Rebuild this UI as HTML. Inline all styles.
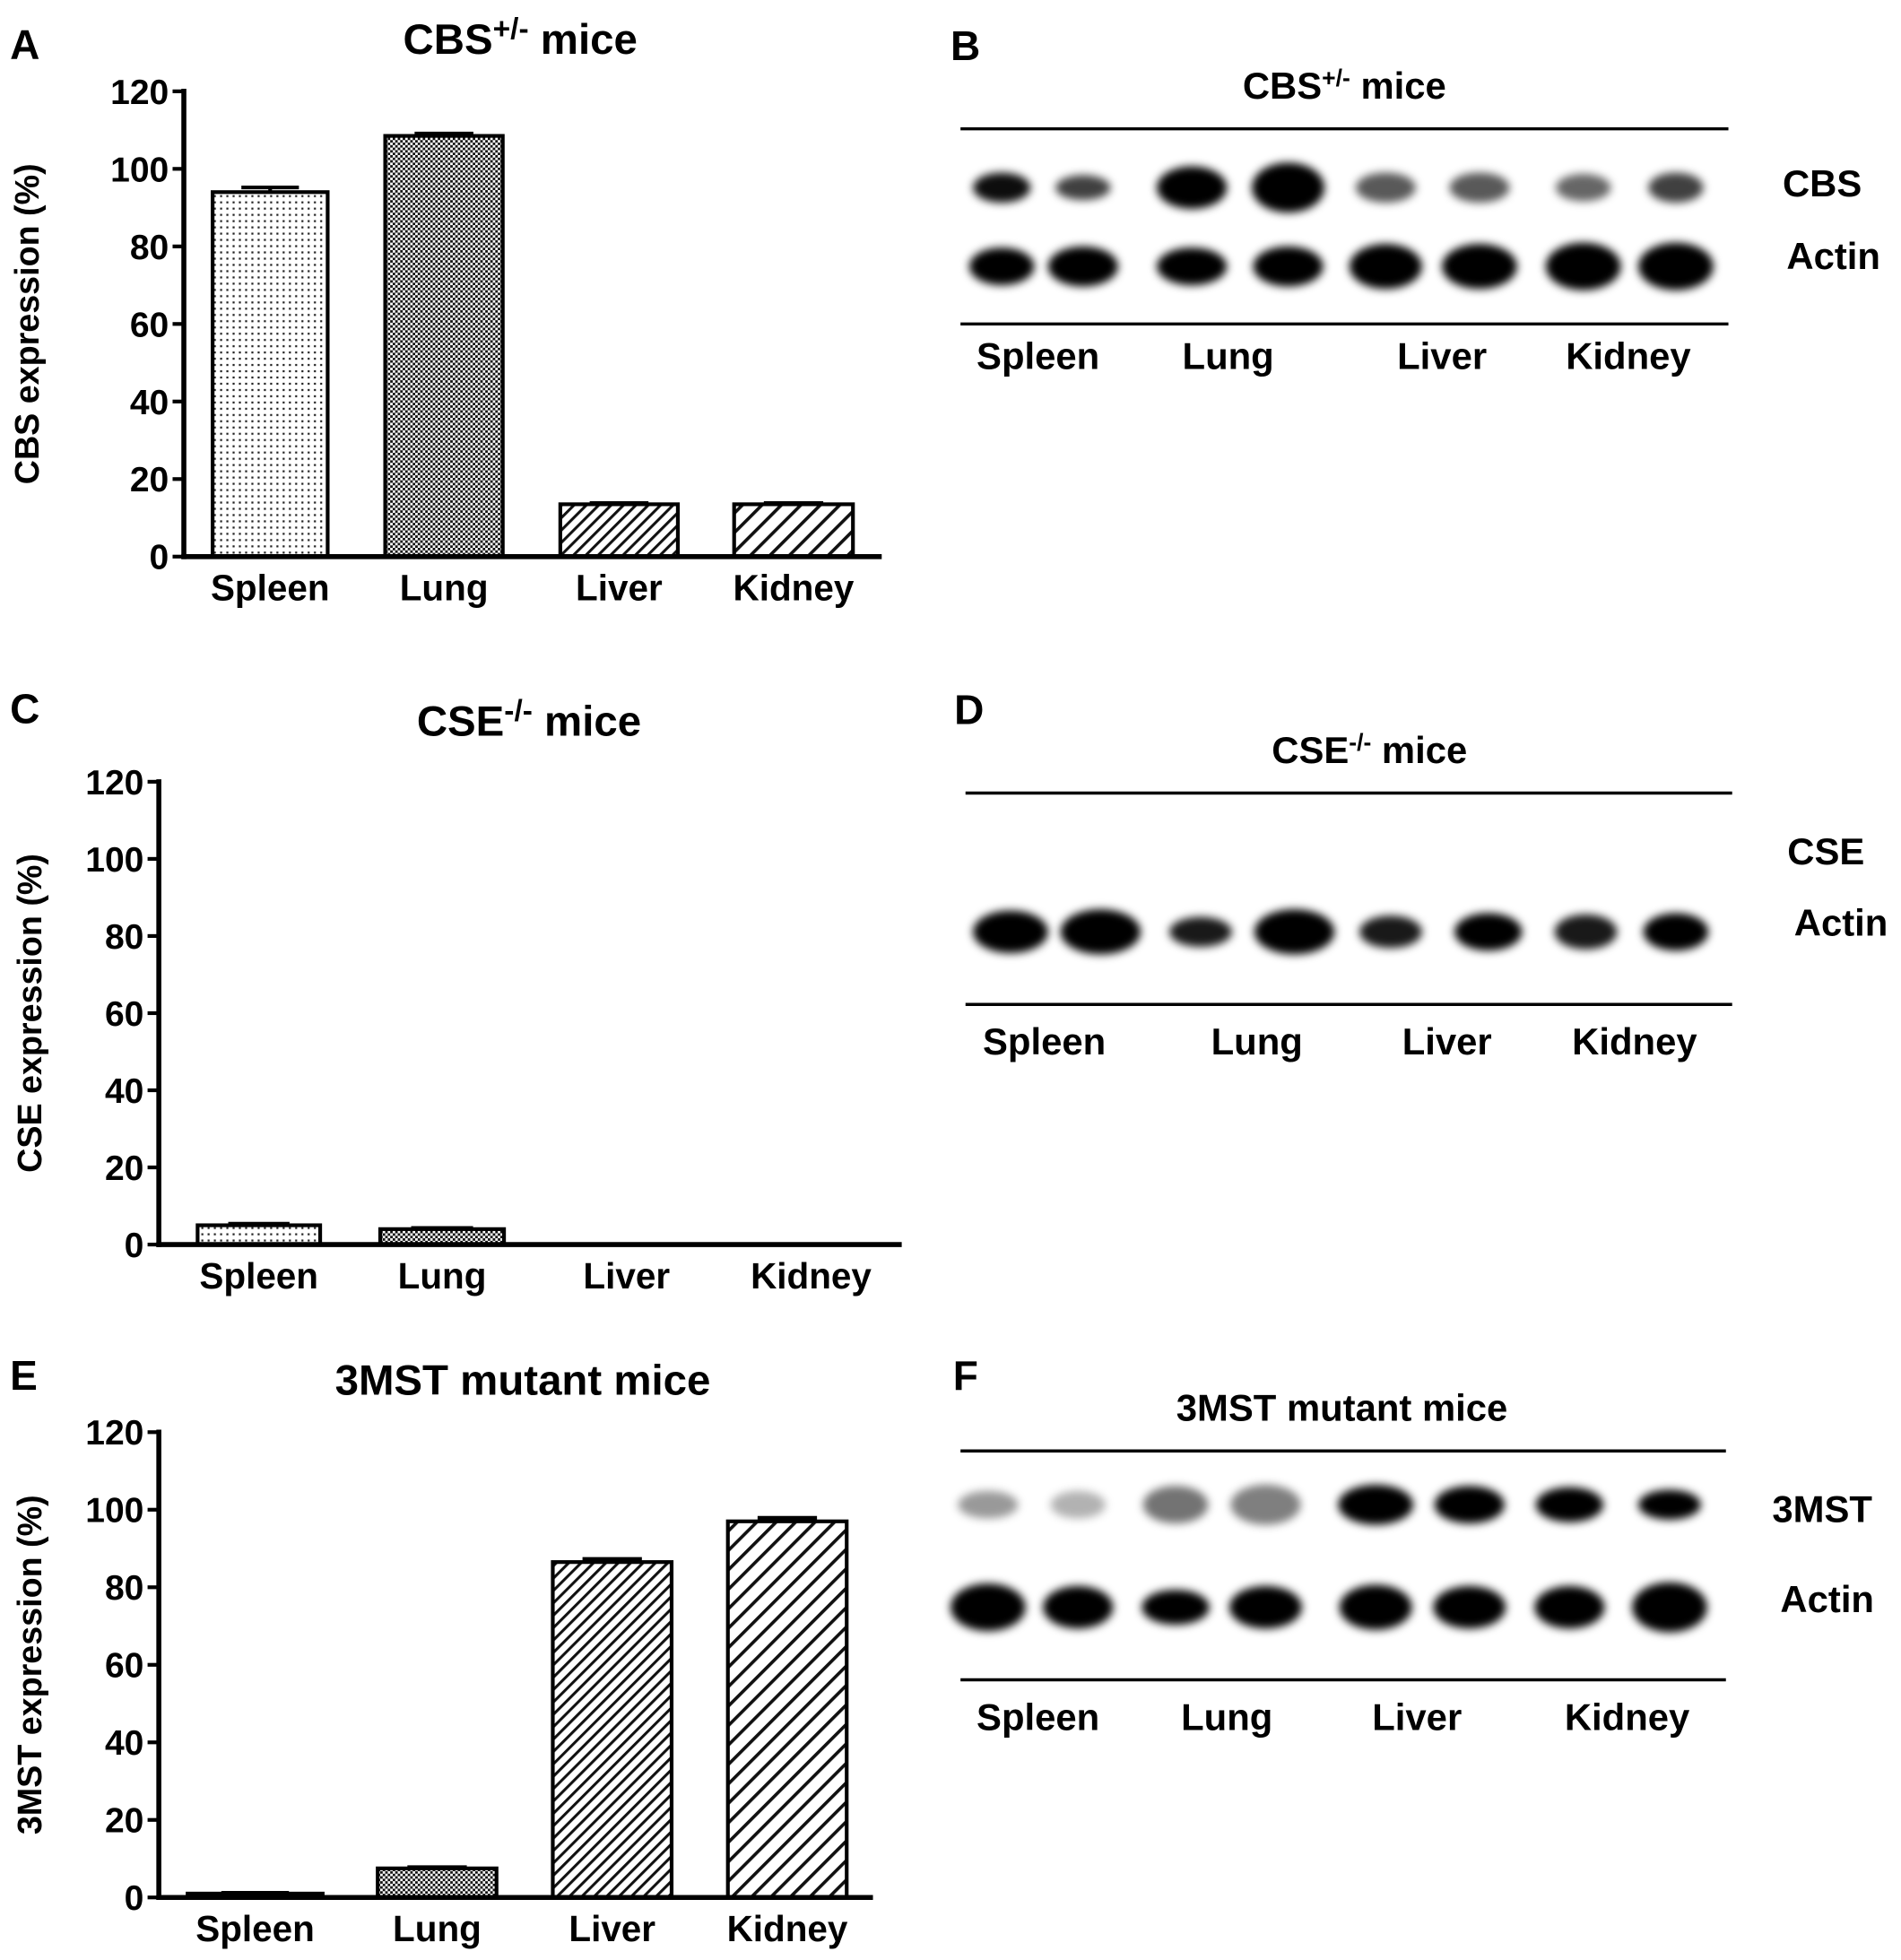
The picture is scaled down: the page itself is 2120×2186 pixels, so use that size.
<!DOCTYPE html>
<html><head><meta charset="utf-8">
<style>
html,body{margin:0;padding:0;background:#fff;}
svg{display:block;}
text{font-family:"Liberation Sans Narrow","Liberation Sans",sans-serif;font-weight:bold;fill:#000;}
</style></head>
<body>
<svg id="fig" width="2120" height="2186" viewBox="0 0 1520 1567" preserveAspectRatio="none" xmlns="http://www.w3.org/2000/svg">
<defs>
<pattern id="pDots" width="5" height="5" patternUnits="userSpaceOnUse"><rect width="5" height="5" fill="#fff"/><rect x="1" y="1" width="1.6" height="1.6" fill="#222"/></pattern>
<pattern id="pCheck" width="4" height="4" patternUnits="userSpaceOnUse"><rect width="4" height="4" fill="#fff"/><rect width="2" height="2" fill="#111"/><rect x="2" y="2" width="2" height="2" fill="#111"/></pattern>
<pattern id="pDiag1" width="7" height="7" patternUnits="userSpaceOnUse" patternTransform="rotate(45)"><rect width="7" height="7" fill="#fff"/><rect width="2.2" height="7" fill="#111"/></pattern>
<pattern id="pDiag2" width="11" height="11" patternUnits="userSpaceOnUse" patternTransform="rotate(45)"><rect width="11" height="11" fill="#fff"/><rect width="2.6" height="11" fill="#111"/></pattern>
<filter id="blur" x="-50%" y="-50%" width="200%" height="200%"><feGaussianBlur stdDeviation="3.5"/></filter>
</defs>
<g id="charts"></g>
<g id="blots"></g>
</svg>
<script>
const NS="http://www.w3.org/2000/svg";
// ---- chart data ----
const categories=["Spleen","Lung","Liver","Kidney"];
const yTicks=[0,20,40,60,80,100,120];
const cbsValues=[94,108.5,13.5,13.5];
const cbsErrors=[1.2,0.6,0.3,0.3];
const cseValues=[5,4,0,0];
const cseErrors=[0.4,0.3,0,0];
const mstValues=[1,7.5,86.5,97];
const mstErrors=[0.2,0.3,0.8,0.9];

function mk(tag,attrs,parent){const e=document.createElementNS(NS,tag);for(const k in attrs)e.setAttribute(k,attrs[k]);parent.appendChild(e);return e;}
function txt(s,attrs,parent){const e=mk("text",attrs,parent);e.textContent=s;return e;}

const chartsG=document.getElementById("charts");
const fills=["url(#pDots)","url(#pCheck)","url(#pDiag1)","url(#pDiag2)"];

function drawChart(cfg){
  const g=mk("g",{},chartsG);
  
  
  const y=v=>cfg.y0-(v/120)*(cfg.y0-cfg.y120);
  cfg.values.forEach((v,i)=>{
    const x0=cfg.bars[i][0],x1=cfg.bars[i][1];
    if(v>0){
      const r=mk("rect",{x:x0,y:y(v),width:x1-x0,height:cfg.y0-y(v),fill:fills[i],stroke:"#000","stroke-width":3},g);
      
      
      const e=cfg.errors[i];
      if(e>0){
        const el=mk("line",{x1:(x0+x1)/2,x2:(x0+x1)/2,y1:y(v),y2:y(v+e),stroke:"#000","stroke-width":3},g);
        
        
        const cap=mk("line",{x1:x0+(x1-x0)*0.25,x2:x1-(x1-x0)*0.25,y1:y(v+e),y2:y(v+e),stroke:"#000","stroke-width":3},g);
        
        
      }
    }
    const l=txt(categories[i],{x:(x0+x1)/2,y:cfg.y0+35,"text-anchor":"middle","font-size":29},g);
    
    
  });
  const ya=mk("line",{x1:cfg.ax,x2:cfg.ax,y1:cfg.y120-2,y2:cfg.y0+2,stroke:"#000","stroke-width":4},g);
  
  
  const xa=mk("line",{x1:cfg.ax-2,x2:cfg.xEnd,y1:cfg.y0,y2:cfg.y0,stroke:"#000","stroke-width":4},g);
  
  
  yTicks.forEach(t=>{
    const tk=mk("line",{x1:cfg.ax-9,x2:cfg.ax,y1:y(t),y2:y(t),stroke:"#000","stroke-width":3},g);
    
    
    const tl=txt(String(t),{x:cfg.ax-12,y:y(t)+10,"text-anchor":"end","font-size":28},g);
    
    
  });
  const yt=txt(cfg.ytitle,{x:0,y:0,"text-anchor":"middle","font-size":27,transform:`translate(${cfg.ytx},${(cfg.y0+cfg.y120)/2}) rotate(-90)`},g);
  
  
  const tt=txt("",{x:cfg.titleX,y:cfg.titleY,"text-anchor":"middle","font-size":34},g);
  
  
  tt.innerHTML=cfg.title;
  const pl=txt(cfg.letter,{x:8,y:cfg.letterY,"font-size":33},g);
  
  
}

drawChart({name:"chart-a-cbs",values:cbsValues,errors:cbsErrors,ax:147,y0:445,y120:73,xEnd:705,ytx:31,
  bars:[[170,262],[308,402],[448,542],[587,682]],ytitle:"CBS expression (%)",
  title:'CBS<tspan dy="-12" font-size="24">+/-</tspan><tspan dy="12"> mice</tspan>',titleX:416,titleY:43,letter:"A",letterY:47});
drawChart({name:"chart-c-cse",values:cseValues,errors:cseErrors,ax:127,y0:995,y120:625,xEnd:721,ytx:33,
  bars:[[158,256],[304,403],[452,550],[600,697]],ytitle:"CSE expression (%)",
  title:'CSE<tspan dy="-12" font-size="24">-/-</tspan><tspan dy="12"> mice</tspan>',titleX:423,titleY:588,letter:"C",letterY:578});
drawChart({name:"chart-e-3mst",values:mstValues,errors:mstErrors,ax:127,y0:1517,y120:1145,xEnd:698,ytx:33,
  bars:[[150,258],[302,397],[442,537],[582,677]],ytitle:"3MST expression (%)",
  title:'3MST mutant mice',titleX:418,titleY:1115,letter:"E",letterY:1111});

// ---- blots ----
const blotsG=document.getElementById("blots");
const blotLabels=["Spleen","Lung","Liver","Kidney"];
function drawBlot(cfg){
  const g=mk("g",{},blotsG);
  
  
  const pl=txt(cfg.letter,{x:cfg.letterX,y:cfg.letterY,"font-size":33},g);
  
  
  const tt=txt("",{x:cfg.titleX,y:cfg.titleY,"text-anchor":"middle","font-size":30},g);
  tt.innerHTML=cfg.title;
  
  
  [cfg.line1,cfg.line2].forEach(ly=>{
    const l=mk("line",{x1:cfg.lx0,x2:cfg.lx1,y1:ly,y2:ly,stroke:"#000","stroke-width":2.5},g);
    
    
  });
  cfg.rows.forEach(row=>{
    row.bands.forEach((b,i)=>{
      const e=mk("ellipse",{cx:b[0],cy:row.y,rx:b[1],ry:b[2],fill:"#000","fill-opacity":b[3],filter:"url(#blur)"},g);
      
      
    });
    const rl=txt(row.label,{x:row.lx,y:row.ly,"text-anchor":"middle","font-size":30},g);
    
    
  });
  blotLabels.forEach((s,i)=>{
    const l=txt(s,{x:cfg.labX[i],y:cfg.labY,"text-anchor":"middle","font-size":30},g);
    
    
  });
}
drawBlot({name:"blot-b-cbs",letter:"B",letterX:760,letterY:48,title:'CBS<tspan dy="-10" font-size="19">+/-</tspan><tspan dy="10"> mice</tspan>',titleX:1075,titleY:79,
  lx0:768,lx1:1382,line1:103,line2:259,labY:295,labX:[830,982,1153,1302],
  rows:[{y:150,label:"CBS",lx:1457,ly:157,bands:[[801,23,12,0.95],[866,22,10,0.75],[953,28,17,1],[1030,29,20,1],[1108,24,12,0.65],[1183,24,12,0.65],[1266,22,11,0.6],[1340,22,12,0.75]]},
           {y:213,label:"Actin",lx:1466,ly:215,bands:[[801,26,15,1],[866,28,16,1],[953,28,15,1],[1030,28,16,1],[1108,29,18,1],[1183,30,18,1],[1266,30,19,1],[1340,30,19,1]]}]});
drawBlot({name:"blot-d-cse",letter:"D",letterX:763,letterY:579,title:'CSE<tspan dy="-10" font-size="19">-/-</tspan><tspan dy="10">  mice</tspan>',titleX:1095,titleY:610,
  lx0:772,lx1:1385,line1:634,line2:803,labY:843,labX:[835,1005,1157,1307],
  rows:[{y:680,label:"CSE",lx:1460,ly:691,bands:[]},
        {y:745,label:"Actin",lx:1472,ly:748,bands:[[808,30,17,1],[880,32,18,1],[960,25,12,0.9],[1035,32,18,1],[1112,25,13,0.9],[1190,27,15,1],[1268,25,14,0.9],[1340,26,15,1]]}]});
drawBlot({name:"blot-f-3mst",letter:"F",letterX:762,letterY:1111,title:'3MST mutant mice',titleX:1073,titleY:1136,
  lx0:768,lx1:1380,line1:1160,line2:1343,labY:1383,labX:[830,981,1133,1301],
  rows:[{y:1203,label:"3MST",lx:1457,ly:1217,bands:[[790,24,11,0.4],[862,22,11,0.3],[940,26,15,0.55],[1012,28,16,0.5],[1100,30,16,1],[1175,28,15,1],[1255,27,14,1],[1335,25,12,1]]},
        {y:1285,label:"Actin",lx:1461,ly:1289,bands:[[790,30,19,1],[862,28,17,1],[940,27,14,1],[1012,29,17,1],[1100,29,18,1],[1175,29,17,1],[1255,28,17,1],[1335,30,20,1]]}]});
</script>
</body></html>
